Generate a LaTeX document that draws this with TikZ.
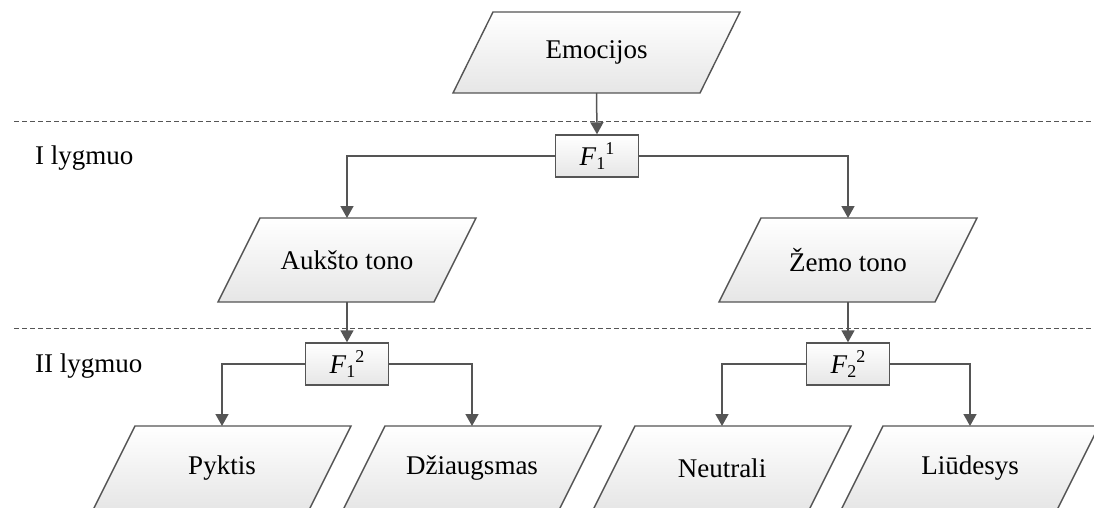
\documentclass[tikz,border=0pt]{standalone}
\usepackage{fontspec}
\setmainfont{Liberation Serif}
\usetikzlibrary{arrows.meta,backgrounds}

\definecolor{edgegray}{HTML}{555555}
\definecolor{fillgray}{HTML}{E6E6E6}

\tikzset{
  every node/.style={font=\fontsize{27}{32}\selectfont, text=black},
  para/.style={minimum height=84pt, inner sep=0pt, outer sep=0pt},
  fbox/.style={draw=edgegray, line width=1.4pt, minimum width=83pt, minimum height=42pt,
    inner sep=0pt, top color=white, bottom color=fillgray},
  link/.style={draw=edgegray, line width=1.5pt,
    -{Triangle[length=12pt,width=13pt]}},
  level/.style={draw=edgegray, line width=1pt, dash pattern=on 5pt off 3pt},
  shapefill/.style={draw=edgegray, line width=1.4pt, top color=white, bottom color=fillgray}
}

% slanted outline behind a named node; #2 = horizontal offset of the top edge
\newcommand\slantbox[2]{%
  \path[shapefill] ([xshift=#2]#1.north west) -- (#1.north east)
    -- ([xshift=-#2]#1.south east) -- (#1.south west) -- cycle;}

\newcommand\fidx[2]{\textit{F}\raisebox{-4pt}{\fontsize{18}{18}\selectfont #1}\raisebox{11pt}{\fontsize{18}{18}\selectfont #2}}

\begin{document}
\begin{tikzpicture}[x=1pt, y=-1pt]
  \useasboundingbox (0,0) rectangle (1094,508);
  \clip (0,0) rectangle (1094,508);

  % level separators and labels
  \coordinate (l1a) at (14,122);  \coordinate (l1b) at (1094,122);
  \coordinate (l2a) at (14,328);  \coordinate (l2b) at (1094,328);
  \draw[level] (l1a) -- (l1b);
  \draw[level] (l2a) -- (l2b);
  \node[anchor=base west, inner sep=0pt] (lv1) at (35,164) {I lygmuo};
  \node[anchor=base west, inner sep=0pt] (lv2) at (35,372) {II lygmuo};

  % slanted data nodes
  \node[para, minimum width=287pt, minimum height=81pt] (emo) at (596.5,52.5) {Emocijos};
  \node[para, minimum width=258pt] (auk) at (347,260) {Aukšto tono};
  \node[para, minimum width=258pt] (zem) at (848,260) {Žemo tono};
  \node[para, minimum width=258pt] (pyk) at (222,468) {Pyktis};
  \node[para, minimum width=258pt] (dzi) at (472,468) {Džiaugsmas};
  \node[para, minimum width=258pt] (neu) at (722,468) {Neutrali};
  \node[para, minimum width=258pt] (liu) at (970,468) {Liūdesys};

  \begin{scope}[on background layer]
    \slantbox{emo}{40pt}
    \slantbox{auk}{42pt}
    \slantbox{zem}{42pt}
    \slantbox{pyk}{42pt}
    \slantbox{dzi}{42pt}
    \slantbox{neu}{42pt}
    \slantbox{liu}{42pt}
  \end{scope}

  % decision boxes
  \node[fbox] (f11) at (597,156) {\fidx{1}{1}};
  \node[fbox] (f12) at (347,364) {\fidx{1}{2}};
  \node[fbox] (f22) at (848,364) {\fidx{2}{2}};

  % connectors
  \draw[link] (emo.south) -- (f11.north);
  \draw[link] (f11.west) -| (auk.north);
  \draw[link] (f11.east) -| (zem.north);
  \draw[link] (auk.south) -- (f12.north);
  \draw[link] (zem.south) -- (f22.north);
  \draw[link] (f12.west) -| (pyk.north);
  \draw[link] (f12.east) -| (dzi.north);
  \draw[link] (f22.west) -| (neu.north);
  \draw[link] (f22.east) -| (liu.north);
\end{tikzpicture}
\end{document}
